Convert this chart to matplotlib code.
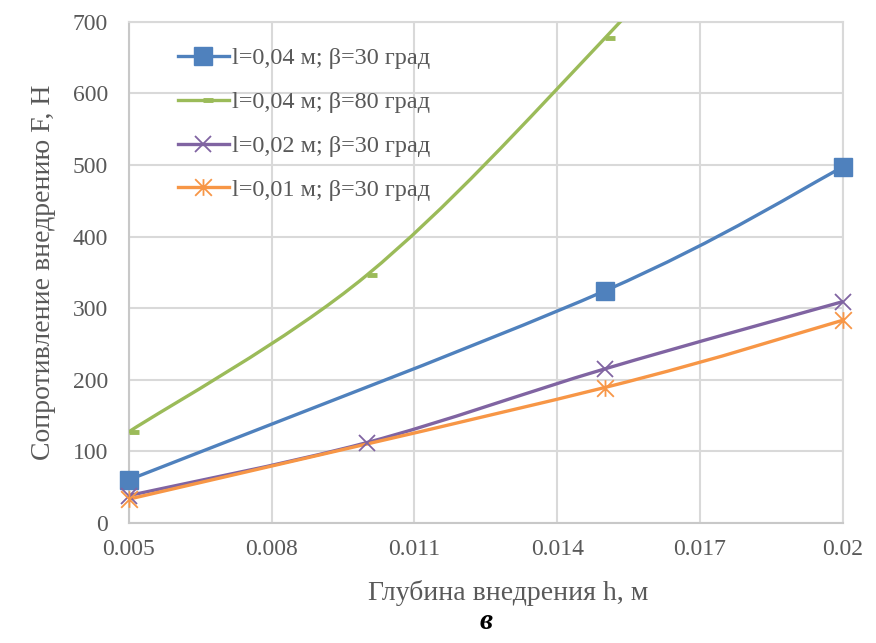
import numpy as np
import matplotlib
matplotlib.use('Agg')
from matplotlib import pyplot as plt
from matplotlib.path import Path
from matplotlib.patches import PathPatch
from matplotlib.lines import Line2D

plt.rcParams['font.family'] = ['Liberation Serif', 'DejaVu Serif']

# data
h_blue = [0.005, 0.015, 0.02]
f_blue = [60, 324, 497]

h_green = [0.005, 0.01, 0.015, 0.02]
f_green = [127, 346, 677, 1050]

h_purple = [0.005, 0.01, 0.015, 0.02]
f_purple = [38, 112, 215, 309]

h_orange = [0.005, 0.015, 0.02]
f_orange = [33, 189, 283]

labels = ['l=0,04 м; β=30 град', 'l=0,04 м; β=80 град',
          'l=0,02 м; β=30 град', 'l=0,01 м; β=30 град']
xticks = [0.005, 0.008, 0.011, 0.014, 0.017, 0.02]
xticklabels = ['0.005', '0.008', '0.011', '0.014', '0.017', '0.02']

GRAY = '#595959'
GRID = '#d9d9d9'

# excel-like markers
dash = Path([(0, 0), (1, 0)], [Path.MOVETO, Path.LINETO])
star = Path([(0, -1), (0, 1), (-1, -1), (1, 1), (-1, 1), (1, -1)],
            [Path.MOVETO, Path.LINETO] * 3)


def smooth_path(x, y):
    # excel "smoothed line": bezier segments with catmull-rom tangents
    x = np.asarray(x, float)
    y = np.asarray(y, float)
    n = len(x)
    verts = [(x[0], y[0])]
    codes = [Path.MOVETO]
    for i in range(n - 1):
        p0 = i - 1 if i > 0 else i
        p3 = i + 2 if i + 2 < n else i + 1
        c1 = (x[i] + (x[i + 1] - x[p0]) / 6, y[i] + (y[i + 1] - y[p0]) / 6)
        c2 = (x[i + 1] - (x[p3] - x[i]) / 6, y[i + 1] - (y[p3] - y[i]) / 6)
        verts += [c1, c2, (x[i + 1], y[i + 1])]
        codes += [Path.CURVE4] * 3
    return Path(verts, codes)


fig = plt.figure(figsize=(8.76, 6.43), dpi=100)
ax = fig.add_axes([0.147, 0.187, 0.815, 0.779])

series = [
    (h_blue, f_blue, '#4f81bd', dict(marker='s', markersize=13)),
    (h_green, f_green, '#9bbb59', dict(marker=dash, markersize=14, markeredgewidth=3.5)),
    (h_purple, f_purple, '#8064a2', dict(marker='x', markersize=12, markeredgewidth=1.3)),
    (h_orange, f_orange, '#f79646', dict(marker=star, markersize=12, markeredgewidth=1.3)),
]

handles = []
for (x, y, c, mk), lab in zip(series, labels):
    patch = PathPatch(smooth_path(x, y), facecolor='none', edgecolor=c,
                      linewidth=2.4, capstyle='round', zorder=3)
    ax.add_patch(patch)
    ax.plot(x, y, linestyle='none', color=c, markeredgecolor=c, zorder=4,
            clip_on=False, **mk)
    handles.append(Line2D([], [], color=c, linewidth=2.4, markeredgecolor=c, **mk))

# clip markers that fall above the plot top
for ln in ax.lines:
    xd, yd = ln.get_data()
    keep = np.asarray(yd) <= 700
    ln.set_data(np.asarray(xd)[keep], np.asarray(yd)[keep])

ax.set_xlim(0.005, 0.02)
ax.set_ylim(0, 700)
ax.set_xticks(xticks)
ax.set_xticklabels(xticklabels)
ax.set_yticks(np.arange(0, 701, 100))
ax.tick_params(length=0, labelsize=17, colors=GRAY)
ax.tick_params(axis='x', pad=12)
ax.tick_params(axis='y', pad=15)
ax.grid(True, color=GRID, linewidth=1.5)
ax.set_axisbelow(True)
for s in ax.spines.values():
    s.set_color(GRID)
    s.set_linewidth(1.5)
ax.spines['bottom'].set_color('#c8c8c8')
ax.spines['left'].set_color('#c8c8c8')

ax.set_xlabel('Глубина внедрения h, м', fontsize=20, color=GRAY, labelpad=14)
ax.xaxis.label.set_x(0.531)
ax.set_ylabel('Сопротивление внедрению F, Н', fontsize=20, color=GRAY, labelpad=12)

ax.legend(handles, labels, loc='upper left', bbox_to_anchor=(0.038, 0.993),
          frameon=False, fontsize=17.5, labelspacing=0.9, handlelength=2.1,
          handletextpad=0.15, labelcolor=GRAY)

fig.text(0.555, 0.012, 'в', fontsize=21, style='italic', fontweight='bold',
         ha='center', va='bottom', color='black')

fig.savefig('out.png', dpi=100)
